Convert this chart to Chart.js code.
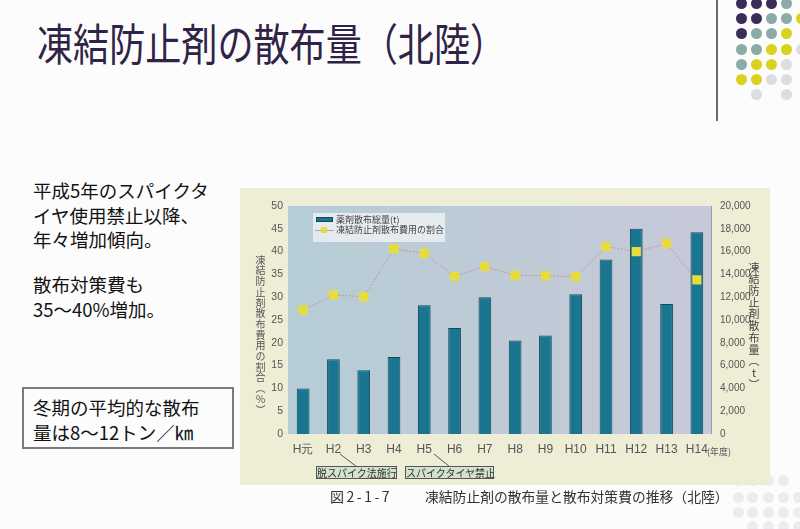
<!DOCTYPE html>
<html><head><meta charset="utf-8">
<script src="https://cdn.jsdelivr.net/npm/chart.js@4/dist/chart.umd.min.js"></script>
<style>
html,body{margin:0;padding:0;}
body{width:800px;height:529px;position:relative;overflow:hidden;background:#fcfcfc;font-family:"Noto Sans CJK JP","Noto Sans",sans-serif;}
.t{position:absolute;white-space:nowrap;}
.dot{position:absolute;width:11px;height:11px;border-radius:50%;}
.vt{position:absolute;writing-mode:vertical-rl;text-orientation:upright;font-size:10px;color:#555;letter-spacing:0.7px;}
</style></head><body>
<script>
const categories=['H元','H2','H3','H4','H5','H6','H7','H8','H9','H10','H11','H12','H13','H14'];
const amountTons=[4000,6550,5600,6750,11300,9300,12000,8200,8650,12250,15300,18000,11400,17700];
const costShare=[27.2,30.5,30.1,40.6,39.6,34.6,36.7,34.8,34.7,34.5,41.1,40.0,41.8,33.8];
const leftTicks=[0,5,10,15,20,25,30,35,40,45,50];
const rightTicks=[0,2000,4000,6000,8000,10000,12000,14000,16000,18000,20000];
const seriesNames=['薬剤散布総量(t)','凍結防止剤散布費用の割合'];
</script>

<!-- decorative dots -->
<div id="dots"></div>
<div style="position:absolute;left:716px;top:0;width:2px;height:121px;background:#6a6a6a;"></div>

<div class="t" style="left:37px;top:20px;font-size:44px;line-height:44px;color:#2f2346;transform:scaleX(0.82);transform-origin:left center;">凍結防止剤の散布量（北陸）</div>

<div class="t" style="left:33px;top:178px;font-size:18.5px;line-height:24.5px;color:#111;">平成5年のスパイクタ<br>イヤ使用禁止以降、<br>年々増加傾向。</div>
<div class="t" style="left:33px;top:272px;font-size:18.5px;line-height:25px;color:#111;">散布対策費も<br>35～40%増加。</div>
<div style="position:absolute;left:22px;top:387px;width:208px;height:58px;border:2px solid #7a7a7a;background:#fcfcfc;"></div>
<div class="t" style="left:33px;top:395px;font-size:18.5px;line-height:25px;color:#111;">冬期の平均的な散布<br>量は8～12トン／㎞</div>

<!-- chart panel -->
<div style="position:absolute;left:240px;top:188px;width:530px;height:297px;background:#eeedd6;"></div>
<canvas id="c" width="530" height="297" style="position:absolute;left:240px;top:188px;width:530px;height:297px;"></canvas>

<div class="vt" style="left:253px;top:255px;">凍結防止剤散布費用の割合（%）</div>
<div class="vt" style="left:746px;top:262px;font-size:11px;color:#444;">凍結防止剤散布量（t）</div>
<div class="t" style="left:707px;top:446px;font-size:9px;line-height:12px;color:#555;">(年度)</div>

<!-- legend -->
<div style="position:absolute;left:313px;top:213px;width:132px;height:29px;background:rgba(236,240,242,0.85);"></div>
<div style="position:absolute;left:316px;top:217px;width:17px;height:5px;background:#1a7590;border:1px solid #0e4b5e;box-sizing:border-box;"></div>
<div class="t" style="left:336px;top:214px;font-size:9px;line-height:12px;color:#444;" id="lg1"></div>
<div style="position:absolute;left:315px;top:229.5px;width:19px;height:1px;background:rgba(205,110,110,0.7);"></div>
<div style="position:absolute;left:321px;top:227px;width:6px;height:6px;background:#e6dc3c;"></div>
<div class="t" style="left:336px;top:224px;font-size:9px;line-height:12px;color:#444;" id="lg2"></div>

<!-- annotations -->
<svg style="position:absolute;left:0;top:0;" width="800" height="529">
<line x1="340" y1="454" x2="357" y2="467" stroke="#555" stroke-width="1"/>
<line x1="434" y1="454" x2="450" y2="467" stroke="#555" stroke-width="1"/>
</svg>
<div class="t" style="left:316px;top:466px;width:79px;height:11px;background:#d3e2cd;border:1px solid #555;font-size:10px;line-height:11px;color:#333;text-align:center;">脱スパイク法施行</div>
<div class="t" style="left:405px;top:466px;width:87px;height:11px;background:#d3e2cd;border:1px solid #555;font-size:10px;line-height:11px;color:#333;text-align:center;">スパイクタイヤ禁止</div>

<div class="t" style="left:330px;top:487px;font-size:14px;line-height:18px;color:#333;letter-spacing:2.5px;">図2-1-7</div>
<div class="t" style="left:425px;top:487px;font-size:13.8px;line-height:18px;color:#333;">凍結防止剤の散布量と散布対策費の推移（北陸）</div>

<script>
document.getElementById('lg1').textContent=seriesNames[0];
document.getElementById('lg2').textContent=seriesNames[1];
// dots
(function(){
  const D='#3a2d55',T='#8aaba6',Y='#d9d21f',G='#dcdde3';
  const rows=[[D,D,D,T,null],[D,D,T,T,Y],[D,T,T,Y,null],[T,T,Y,Y,G],[T,Y,Y,G,null],[Y,Y,G,G,null],[null,G,null,G,null]];
  const xs=[741,756,771,786,801], ys=[3,18,33,49,64,79,94];
  let h='';
  rows.forEach((r,i)=>r.forEach((c,j)=>{if(c)h+=`<div class="dot" style="left:${xs[j]-5.5}px;top:${ys[i]-5.5}px;background:${c}"></div>`;}));
  const fr=[[480,[738,752,768,783]],[497,[738,752,768,783,798]],[512,[738,752,768,783,798]],[526,[752,768,783,798]]];
  fr.forEach(([y,xx])=>xx.forEach(x=>{h+=`<div class="dot" style="left:${x-5.5}px;top:${y-5.5}px;background:#ececf0"></div>`;}));
  document.getElementById('dots').innerHTML=h;
})();

const bgPlugin={id:'bg',beforeDatasetsDraw(chart){
  const {ctx,chartArea:a}=chart;
  const g=ctx.createLinearGradient(a.left,0,a.right,0);
  g.addColorStop(0,'#b6cdd6');g.addColorStop(1,'#c7c9d8');
  ctx.save();ctx.fillStyle=g;ctx.fillRect(a.left,a.top,a.right-a.left,a.bottom-a.top);
  ctx.strokeStyle='rgba(120,125,145,0.6)';ctx.lineWidth=1;
  ctx.beginPath();ctx.moveTo(a.right-0.5,a.top);ctx.lineTo(a.right-0.5,a.bottom);ctx.stroke();
  ctx.restore();
}};

new Chart(document.getElementById('c'),{
  data:{labels:categories,datasets:[
    {type:'line',label:seriesNames[1],data:costShare,yAxisID:'y',order:0,
     borderColor:'rgba(205,110,110,0.6)',borderWidth:1,borderDash:[2,1.5],
     pointStyle:'rect',pointRadius:6.5,pointBackgroundColor:'#e6dc3c',pointBorderWidth:0,tension:0},
    {type:'bar',label:seriesNames[0],data:amountTons,yAxisID:'y1',order:1,
     backgroundColor:'#1a7590',borderColor:'#0e4b5e',borderWidth:1,barPercentage:0.42,categoryPercentage:1}
  ]},
  options:{responsive:false,devicePixelRatio:1,animation:false,
    layout:{padding:{top:18,left:0,right:0,bottom:0}},
    plugins:{legend:{display:false},tooltip:{enabled:false}},
    scales:{
      x:{offset:true,grid:{display:false,drawTicks:false},border:{display:false},
         ticks:{padding:8,color:'#555',font:{family:'Liberation Sans',size:12}},
         afterFit(s){s.height=51;}},
      y:{position:'left',min:0,max:50,grid:{display:false,drawTicks:false},border:{display:false},
         afterBuildTicks(s){s.ticks=leftTicks.map(v=>({value:v}));},
         ticks:{padding:5,color:'#555',font:{family:'Liberation Sans',size:10.5}},
         afterFit(s){s.width=48;}},
      y1:{position:'right',min:0,max:20000,grid:{display:false,drawTicks:false},border:{display:false},
         afterBuildTicks(s){s.ticks=rightTicks.map(v=>({value:v}));},
         ticks:{padding:8,color:'#555',font:{family:'Liberation Sans',size:10},callback:v=>v.toLocaleString('en-US')},
         afterFit(s){s.width=58;}}
    }
  },
  plugins:[bgPlugin]
});
</script>
</body></html>
